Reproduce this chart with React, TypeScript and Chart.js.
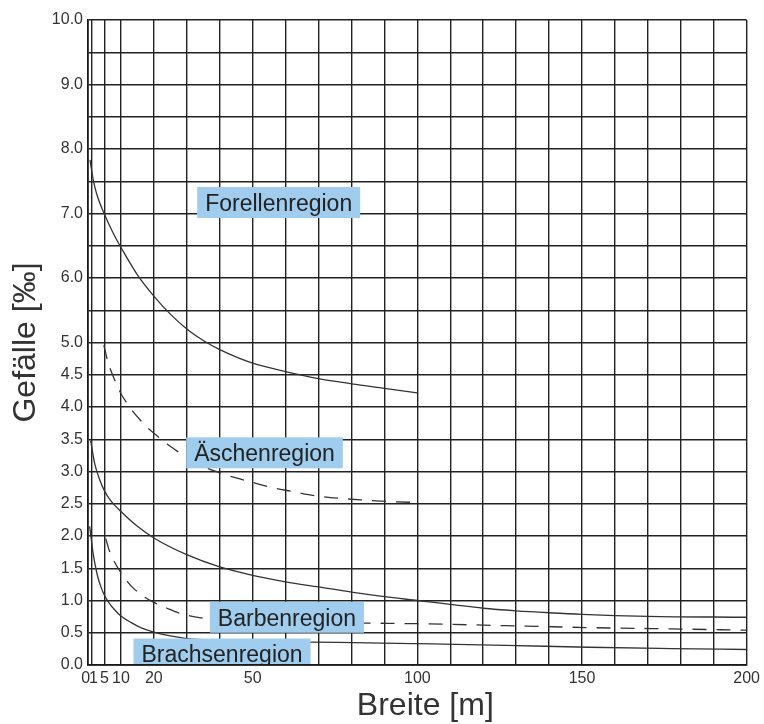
import { useEffect, useRef } from 'react';
import { Chart, registerables } from 'chart.js';

Chart.register(...registerables);

const FONT = '"Liberation Sans", Arial, Helvetica, sans-serif';

// Axis grid positions and labelled ticks
const xGrid = [0, 1, 5, 10, 20, 30, 40, 50, 60, 70, 80, 90, 100, 110, 120, 130, 140, 150, 160, 170, 180, 190, 200];
const xLabeled = [0, 1, 5, 10, 20, 50, 100, 150, 200];
const yGrid = [0, 0.5, 1, 1.5, 2, 2.5, 3, 3.5, 4, 4.5, 5, 5.5, 6, 6.5, 7, 7.5, 8, 8.5, 9, 9.5, 10];
const yLabeled = [0, 0.5, 1, 1.5, 2, 2.5, 3, 3.5, 4, 4.5, 5, 6, 7, 8, 9, 10];

// Forellenregion (solid)
const forellenX = [0.6, 1.6, 2.6, 4.8, 7.7, 10.5, 15, 20, 25, 30, 35, 40, 50, 60, 70, 80, 90, 100];
const forellenY = [7.83, 7.52, 7.31, 7.01, 6.69, 6.43, 6.05, 5.72, 5.44, 5.21, 5.03, 4.89, 4.68, 4.55, 4.44, 4.36, 4.29, 4.22];

// Äschenregion (dashed)
const aeschenX = [4.8, 6.1, 8.1, 10.2, 16.7, 21.3, 25.3, 30, 35, 40, 45, 50, 56, 62, 67, 73, 83, 94, 100];
const aeschenY = [4.96, 4.69, 4.42, 4.19, 3.75, 3.54, 3.38, 3.22, 3.08, 2.98, 2.9, 2.83, 2.75, 2.69, 2.64, 2.6, 2.56, 2.53, 2.52];

// Upper Barbenregion boundary (solid)
const barbenSolidX = [0.8, 1, 2, 3.5, 5, 7, 10, 15, 20, 30, 40, 50, 60, 70, 80, 90, 100, 110, 120, 130, 140, 150, 170, 200];
const barbenSolidY = [3.48, 3.42, 3.13, 2.88, 2.7, 2.54, 2.38, 2.15, 1.97, 1.71, 1.52, 1.39, 1.29, 1.21, 1.13, 1.06, 1.0, 0.94, 0.88, 0.84, 0.81, 0.785, 0.755, 0.74];

// Barbenregion (dashed)
const barbenDashX = [5.4, 6.5, 8, 10, 12, 14, 17, 20, 24, 28, 32, 36, 45, 60, 84, 100, 127, 152, 177, 200];
const barbenDashY = [1.96, 1.77, 1.6, 1.43, 1.29, 1.18, 1.06, 0.97, 0.88, 0.8, 0.75, 0.72, 0.69, 0.67, 0.65, 0.64, 0.61, 0.58, 0.56, 0.54];

// Brachsenregion (solid)
const brachsenX = [0.5, 1, 1.5, 2, 3, 4, 5, 6, 8, 10, 13, 16, 20, 25, 30, 40, 50, 60, 76, 100, 127, 152, 177, 200];
const brachsenY = [2.15, 1.95, 1.75, 1.6, 1.36, 1.2, 1.08, 0.99, 0.86, 0.76, 0.66, 0.58, 0.51, 0.45, 0.41, 0.385, 0.37, 0.36, 0.35, 0.33, 0.305, 0.275, 0.255, 0.24];

// Region labels (anchored in data coordinates)
const regionNames = ['Forellenregion', 'Äschenregion', 'Barbenregion', 'Brachsenregion'];
const regionAtX = [57.9, 53.6, 60.4, 40.7];
const regionAtY = [7.17, 3.29, 0.74, 0.17];

const zip = (xs: number[], ys: number[]) => xs.map((x, i) => ({ x, y: ys[i] }));

const regionLabelPlugin = {
  id: 'regionLabels',
  afterDatasetsDraw(chart: any) {
    const { ctx, chartArea, scales } = chart;
    const size = 23;
    const padX = 8;
    const h = 31;
    ctx.save();
    ctx.beginPath();
    ctx.rect(chartArea.left, chartArea.top, chartArea.right - chartArea.left, chartArea.bottom - chartArea.top - 1);
    ctx.clip();
    ctx.font = `${size}px ${FONT}`;
    regionNames.forEach((name, i) => {
      const cx = scales.x.getPixelForValue(regionAtX[i]);
      const cy = scales.y.getPixelForValue(regionAtY[i]);
      const w = ctx.measureText(name).width + padX * 2;
      ctx.fillStyle = '#a0cdee';
      ctx.fillRect(cx - w / 2, cy - h / 2, w, h);
      ctx.fillStyle = '#222';
      ctx.textAlign = 'center';
      ctx.textBaseline = 'alphabetic';
      ctx.fillText(name, cx, cy + (0.716 * size) / 2);
    });
    ctx.restore();
  },
};

const whiteBg = {
  id: 'whiteBg',
  beforeDraw(chart: any) {
    const { ctx, width, height } = chart;
    ctx.save();
    ctx.fillStyle = '#fff';
    ctx.fillRect(0, 0, width, height);
    ctx.restore();
  },
};

export default function App() {
  const ref = useRef<HTMLCanvasElement>(null);

  useEffect(() => {
    document.body.style.margin = '0';
    document.body.style.overflow = 'hidden';
    const line = '#333';
    const common = {
      showLine: true,
      pointRadius: 0,
      borderColor: line,
      borderWidth: 1.3,
      cubicInterpolationMode: 'monotone' as const,
      fill: false,
    };
    const chart = new Chart(ref.current!, {
      type: 'line',
      data: {
        datasets: [
          { ...common, label: 'Forellenregion', data: zip(forellenX, forellenY) },
          { ...common, label: 'Äschenregion', data: zip(aeschenX, aeschenY), borderDash: [14, 10] },
          { ...common, label: 'Barbenregion Grenze', data: zip(barbenSolidX, barbenSolidY) },
          { ...common, label: 'Barbenregion', data: zip(barbenDashX, barbenDashY), borderDash: [14, 10] },
          { ...common, label: 'Brachsenregion', data: zip(brachsenX, brachsenY) },
        ],
      },
      options: {
        animation: false,
        responsive: false,
        layout: { padding: { left: 0, right: 15, top: 20, bottom: 0 } },
        plugins: { legend: { display: false }, tooltip: { enabled: false } },
        scales: {
          x: {
            type: 'linear',
            min: 0,
            max: 200,
            afterBuildTicks: (scale: any) => {
              scale.ticks = xGrid.map((value) => ({ value }));
            },
            afterFit: (scale: any) => {
              scale.height = 59;
            },
            grid: { color: '#222', lineWidth: 1.4, drawTicks: false },
            border: { display: true, color: '#1a1a1a', width: 1.7 },
            ticks: {
              autoSkip: false,
              maxRotation: 0,
              padding: 4,
              color: '#333',
              font: { size: 16, family: FONT },
              callback: (v: any) => {
                if (!xLabeled.includes(v)) return '';
                if (v === 0) return '0 ';
                if (v === 1) return ' 1';
                return String(v);
              },
            },
            title: {
              display: true,
              text: '\u2002Breite [m]',
              color: '#333',
              font: { size: 32, family: FONT, lineHeight: 1 },
              padding: { top: 0, bottom: 2 },
            },
          },
          y: {
            type: 'linear',
            min: 0,
            max: 10,
            afterBuildTicks: (scale: any) => {
              scale.ticks = yGrid.map((value) => ({ value }));
            },
            afterFit: (scale: any) => {
              scale.width = 88;
            },
            grid: { color: '#222', lineWidth: 1.4, drawTicks: false },
            border: { display: true, color: '#1a1a1a', width: 1.7 },
            ticks: {
              autoSkip: false,
              padding: 5,
              color: '#333',
              font: { size: 16, family: FONT },
              callback: (v: any) => (yLabeled.includes(v) ? Number(v).toFixed(1) : ''),
            },
            title: {
              display: true,
              text: 'Gefälle [‰]',
              color: '#333',
              font: { size: 32, family: FONT, lineHeight: 1 },
              padding: { top: 10, bottom: 0 },
            },
          },
        },
      },
      plugins: [whiteBg, regionLabelPlugin],
    } as any);
    return () => chart.destroy();
  }, []);

  return <canvas ref={ref} width={764} height={724} style={{ display: 'block', width: 764, height: 724 }} />;
}
